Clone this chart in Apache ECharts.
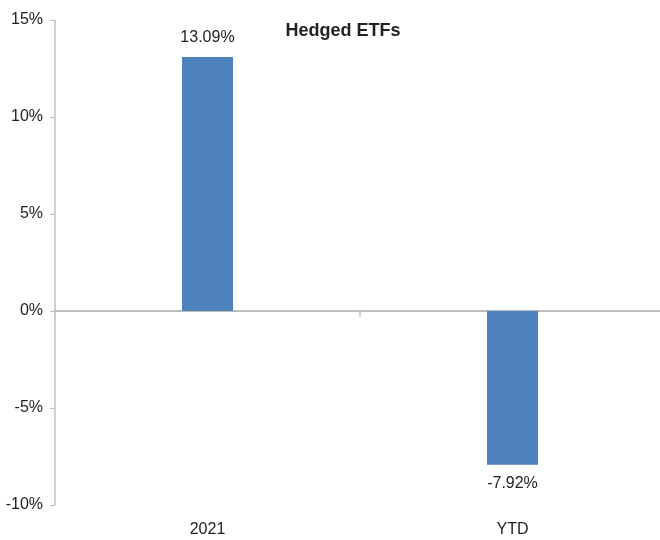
<!DOCTYPE html>
<html>
<head>
<meta charset="utf-8">
<script src="https://cdn.jsdelivr.net/npm/echarts@6/dist/echarts.min.js"></script>
<style>html,body{margin:0;padding:0;background:#fff}#c{width:660px;height:540px}</style>
</head>
<body>
<div id="c"></div>
<script>
const categories = ['2021', 'YTD'];
const values = [13.09, -7.92];
const yTicks = { min: -10, max: 15, interval: 5 };
const FONT = '"Liberation Sans Narrow", "Arial Narrow", "Liberation Sans", sans-serif';

const chart = echarts.init(document.getElementById('c'));
chart.setOption({
  animation: false,
  backgroundColor: '#ffffff',
  title: {
    text: 'Hedged ETFs',
    left: 338, top: 17, textAlign: 'center',
    textStyle: { fontFamily: FONT, fontSize: 18, fontWeight: 'bold', color: '#222' }
  },
  grid: { left: 55, right: -5, top: 20, bottom: 35, containLabel: false, outerBoundsMode: 'none' },
  xAxis: [{
    type: 'category', data: categories,
    axisLine: { onZero: true, lineStyle: { color: '#a6a6a6', width: 1.5 } },
    axisTick: { show: true, interval: 0, length: 6, lineStyle: { color: '#c8c8c8', width: 1.5 } },
    axisLabel: { show: false }
  }, {
    type: 'category', data: categories, position: 'bottom',
    axisLine: { show: false }, axisTick: { show: false },
    axisLabel: { margin: 17, fontFamily: FONT, fontSize: 16, color: '#222' }
  }],
  yAxis: {
    type: 'value', min: yTicks.min, max: yTicks.max, interval: yTicks.interval,
    splitLine: { show: false },
    axisLine: { show: true, lineStyle: { color: '#c0c0c0', width: 1.5 } },
    axisTick: { show: true, length: 5, lineStyle: { color: '#c0c0c0' } },
    axisLabel: { margin: 12, formatter: v => v + '%', fontFamily: FONT, fontSize: 16, color: '#222' }
  },
  series: [{
    type: 'bar', data: values, xAxisIndex: 0, barWidth: 51,
    itemStyle: { color: '#4f81bd' },
    label: {
      show: true, position: 'outside', distance: 11,
      formatter: p => p.value.toFixed(2) + '%',
      fontFamily: FONT, fontSize: 16, color: '#222'
    }
  }]
});
</script>
</body>
</html>
